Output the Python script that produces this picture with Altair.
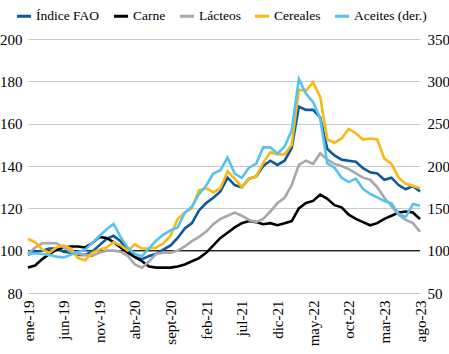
import altair as alt
import pandas as pd

# ---- categories ----
meses = ["ene", "feb", "mar", "abr", "may", "jun", "jul", "ago", "sept", "oct", "nov", "dic"]
anios = ["19", "20", "21", "22", "23"]
periodos = [f"{meses[i % 12]}-{anios[i // 12]}" for i in range(56)]  # ene-19 .. ago-23
etiquetas_x = periodos[::5]

series = ["Índice FAO", "Carne", "Lácteos", "Cereales", "Aceites (der.)"]
colores = ["#0a5a9c", "#000000", "#a6a8ad", "#fbb812", "#55c2f0"]

# ---- values (2019 = 100) ----
indice_fao = [98.0, 99.5, 100.0, 101.0, 101.0, 99.5, 99.0, 98.0, 98.0, 99.5, 102.5, 105.5,
              107.0, 104.5, 100.0, 97.0, 96.0, 97.5, 98.5, 100.5, 102.5, 106.0, 110.5, 113.0,
              119.0, 122.5, 125.0, 128.0, 134.5, 131.0, 130.0, 134.0, 135.0, 140.0, 142.5, 140.5,
              142.5, 148.5, 168.0, 166.5, 166.5, 163.0, 148.0, 145.0, 143.0, 142.5, 142.0, 139.0,
              137.0, 136.5, 133.5, 134.5, 131.0, 129.0, 130.5, 128.0]
carne = [92.0, 93.0, 96.0, 98.5, 100.5, 101.5, 102.0, 102.0, 101.5, 103.5, 106.5, 106.0,
         104.0, 101.5, 99.0, 97.0, 95.0, 92.5, 92.0, 92.0, 92.0, 92.5, 93.5, 95.0,
         96.5, 99.0, 102.5, 106.0, 108.5, 111.0, 113.0, 114.0, 113.5, 112.5, 113.0, 112.0,
         113.0, 114.0, 120.0, 122.5, 123.5, 126.5, 124.5, 121.5, 120.5, 117.0, 115.0, 113.5,
         112.0, 113.0, 115.0, 116.5, 118.0, 118.5, 118.0, 115.0]
lacteos = [98.5, 101.5, 103.5, 103.5, 103.5, 101.5, 99.5, 98.5, 98.0, 97.5, 99.0, 100.0,
           100.0, 99.5, 97.5, 93.5, 92.0, 95.0, 98.5, 99.0, 99.0, 100.0, 102.0, 104.5,
           106.5, 109.0, 112.5, 115.0, 116.5, 118.0, 116.5, 114.5, 113.5, 115.0, 118.5, 122.5,
           125.0, 131.0, 140.5, 142.5, 141.0, 146.0, 143.0, 141.0, 140.0, 138.5, 136.5, 134.5,
           133.5, 130.0, 125.0, 121.0, 117.0, 114.5, 113.0, 109.0]
cereales = [105.5, 104.0, 100.5, 99.0, 101.5, 102.5, 101.0, 96.5, 95.5, 99.0, 100.5, 101.5,
            104.0, 102.5, 100.0, 103.0, 101.0, 101.0, 101.5, 103.5, 107.0, 115.0, 118.0, 120.0,
            128.5, 129.5, 127.5, 129.5, 137.5, 134.0, 130.0, 134.0, 135.0, 141.5, 146.5, 145.5,
            145.5, 150.0, 176.0, 175.5, 179.5, 172.5, 152.5, 151.0, 153.0, 157.5, 155.5, 152.5,
            153.0, 152.5, 143.5, 141.0, 134.5, 131.5, 130.5, 129.5]
aceites = [96.0, 97.0, 96.0, 95.0, 93.0, 92.0, 95.0, 98.5, 101.0, 109.0, 117.0, 125.0,
           131.5, 116.0, 103.5, 96.0, 93.5, 103.0, 112.0, 119.0, 124.0, 127.5, 145.0, 152.0,
           167.0, 177.0, 191.0, 195.0, 210.0, 191.0, 186.0, 198.0, 202.5, 222.0, 222.0, 214.5,
           223.0, 242.0, 302.5, 285.5, 275.5, 256.0, 203.0, 198.0, 186.0, 181.0, 185.0, 173.0,
           167.0, 163.0, 158.5, 156.0, 143.5, 140.0, 155.0, 153.0]

ticks_izq = [80, 100, 120, 140, 160, 180, 200]
ticks_der = [50, 100, 150, 200, 250, 300, 350]
referencia = [100]

# ---- tables ----
izq = pd.concat([
    pd.DataFrame({"periodo": periodos, "serie": nombre, "valor": vals, "orden": k})
    for k, (nombre, vals) in enumerate(zip(series[:4], [indice_fao, carne, lacteos, cereales]))
])
der = pd.DataFrame({"periodo": periodos, "serie": series[4], "valor": aceites, "orden": 4})
ref = pd.DataFrame({"ref": referencia})

FONT = "Liberation Sans Narrow"

x_enc = alt.X("periodo:O", sort=periodos,
              scale=alt.Scale(type="point", padding=0),
              axis=alt.Axis(values=etiquetas_x, labelAngle=-90, labelAlign="right",
                            labelBaseline="middle", labelPadding=7, ticks=False,
                            domain=False, grid=False, title=None,
                            labelFont=FONT, labelFontSize=15, labelColor="#000"))

color_enc = alt.Color("serie:N", scale=alt.Scale(domain=series, range=colores),
                      legend=alt.Legend(title=None, orient="none", direction="horizontal",
                                        legendX=-13, legendY=-32, symbolType="stroke",
                                        symbolStrokeWidth=3, symbolSize=200,
                                        labelFont=FONT, labelFontSize=13.5, labelColor="#000",
                                        columnPadding=7, labelOffset=3))

regla = alt.Chart(ref).mark_rule(color="#222", strokeWidth=1.2).encode(
    y=alt.Y("ref:Q", scale=alt.Scale(domain=[80, 200], nice=False, zero=False), axis=None)
)

lineas_izq = alt.Chart(izq).mark_line(strokeWidth=2.6).encode(
    x=x_enc,
    y=alt.Y("valor:Q", scale=alt.Scale(domain=[80, 200], nice=False, zero=False),
            axis=alt.Axis(values=ticks_izq, orient="left", grid=True, gridColor="#c9c9c9",
                          gridWidth=1, ticks=False, domain=False, title=None,
                          labelPadding=6, labelFont=FONT, labelFontSize=15,
                          labelColor="#000")),
    color=color_enc,
    order="orden:Q",
    detail="serie:N",
)

lineas_der = alt.Chart(der).mark_line(strokeWidth=2.6).encode(
    x=x_enc,
    y=alt.Y("valor:Q", scale=alt.Scale(domain=[50, 350], nice=False, zero=False),
            axis=alt.Axis(values=ticks_der, orient="right", grid=False, ticks=False,
                          domain=False, title=None, labelPadding=7, labelFont=FONT,
                          labelFontSize=15, labelColor="#000")),
    color=color_enc,
)

chart = alt.layer(regla, lineas_izq, lineas_der).resolve_scale(y="independent").properties(
    width=392, height=254,
    padding={"left": 28, "top": 39, "right": 29, "bottom": 61},
    autosize=alt.AutoSizeParams(type="none"),
).configure_view(stroke=None)

chart.save("out.html", embed_options={"renderer": "svg", "actions": False})
